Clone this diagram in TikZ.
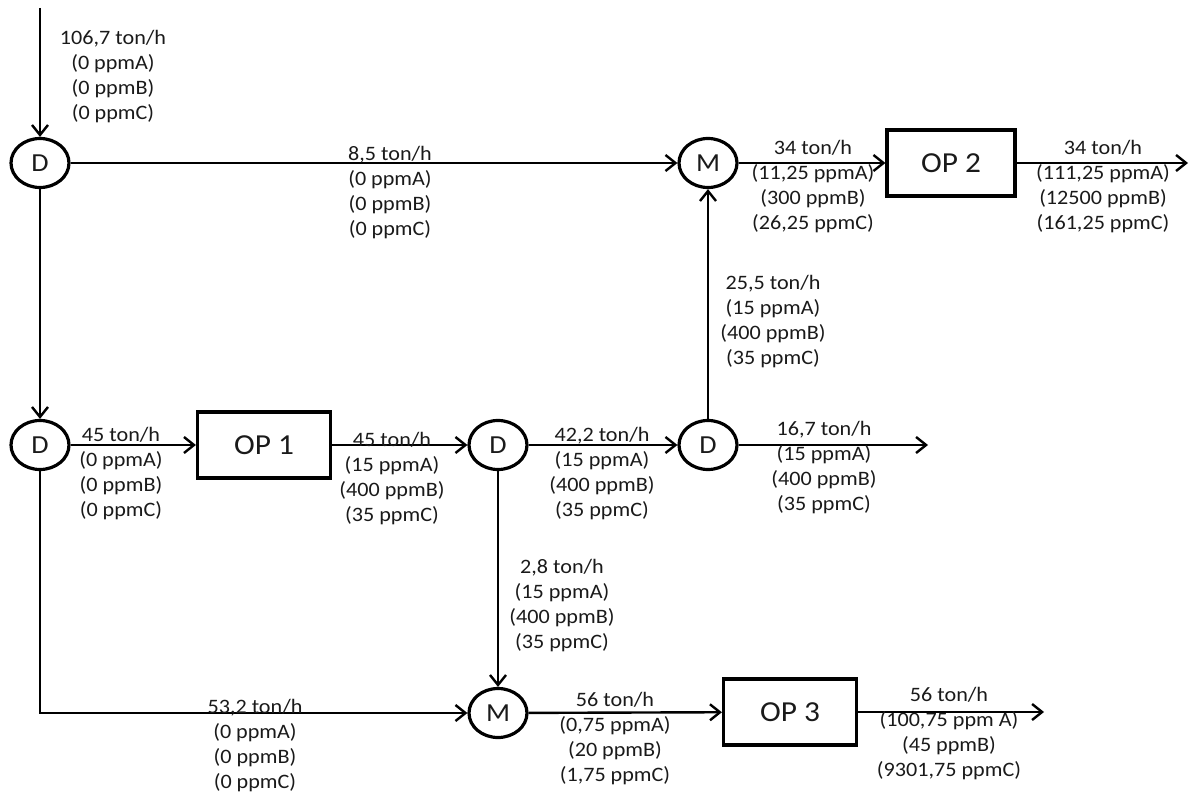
\documentclass[tikz,border=0pt]{standalone}
\usepackage{fontspec}
\setmainfont{Carlito}[FakeStretch=1.08]
\usetikzlibrary{shapes.geometric,arrows.meta}
\definecolor{txt}{HTML}{1A1A1A}
\begin{document}
\begin{tikzpicture}[x=1pt,y=-1pt,
  unit/.style={ellipse,draw,line width=3.2pt,minimum width=58pt,minimum height=49pt,inner sep=0pt,text=txt,font=\fontsize{26}{30}\selectfont},
  opbox/.style={rectangle,draw,line width=3.2pt,minimum width=133pt,minimum height=66pt,inner sep=0pt,text=txt,font=\fontsize{29}{34}\selectfont},
  flow/.style={line width=2.4pt,-{Straight Barb[length=10pt,width=16pt,line width=2.4pt]}},
  lbl/.style={anchor=north,inner sep=0pt,align=center,text=txt,font=\fontsize{20.5}{25}\selectfont}]
\useasboundingbox (0,0) rectangle (1193,794);
% units
\node[unit] (D1) at (40,163) {D};
\node[unit] (D2) at (40,445) {D};
\node[opbox] (OP1) at (264,445) {OP 1};
\node[unit] (D3) at (498,445) {D};
\node[unit] (D4) at (708,445) {D};
\node[unit] (Mt) at (708,163) {M};
\node[opbox,minimum width=128pt] (OP2) at (951,163) {OP 2};
\node[unit] (Mb) at (498,713) {M};
\node[opbox] (OP3) at (790,712) {OP 3};
% free ends
\coordinate (in) at (40,8);
\coordinate (out2) at (1188,163);
\coordinate (out4) at (928,445);
\coordinate (out3) at (1044,712);
\coordinate (corner) at (40,713);
% connectors
\draw[flow] (in) -- (D1);
\draw[flow] (D1) -- (D2);
\draw[flow] (D1) -- (Mt);
\draw[flow] (Mt) -- (OP2);
\draw[flow] (OP2) -- (out2);
\draw[flow] (D2) -- (OP1);
\draw[flow] (OP1) -- (D3);
\draw[flow] (D3) -- (D4);
\draw[flow] (D4) -- (out4);
\draw[flow] (D4) -- (Mt);
\draw[flow] (D3) -- (Mb);
\draw[flow] (D2) -- (corner) -- (Mb);
\draw[flow] (Mb) -- (OP3);
\draw[flow] (OP3) -- (out3);
% labels
\node[lbl] (L1) at (113,30) {106,7 ton/h\\(0 ppmA)\\(0 ppmB)\\(0 ppmC)};
\node[lbl] (L2) at (390,146) {8,5 ton/h\\(0 ppmA)\\(0 ppmB)\\(0 ppmC)};
\node[lbl] (L3) at (813,140) {34 ton/h\\(11,25 ppmA)\\(300 ppmB)\\(26,25 ppmC)};
\node[lbl] (L4) at (1103,140) {34 ton/h\\(111,25 ppmA)\\(12500 ppmB)\\(161,25 ppmC)};
\node[lbl] (L5) at (773,275) {25,5 ton/h\\(15 ppmA)\\(400 ppmB)\\(35 ppmC)};
\node[lbl] (L6) at (121,427) {45 ton/h\\(0 ppmA)\\(0 ppmB)\\(0 ppmC)};
\node[lbl] (L7) at (392,432) {45 ton/h\\(15 ppmA)\\(400 ppmB)\\(35 ppmC)};
\node[lbl] (L8) at (602,427) {42,2 ton/h\\(15 ppmA)\\(400 ppmB)\\(35 ppmC)};
\node[lbl] (L9) at (824,421) {16,7 ton/h\\(15 ppmA)\\(400 ppmB)\\(35 ppmC)};
\node[lbl] (L10) at (562,559) {2,8 ton/h\\(15 ppmA)\\(400 ppmB)\\(35 ppmC)};
\node[lbl] (L11) at (255,699) {53,2 ton/h\\(0 ppmA)\\(0 ppmB)\\(0 ppmC)};
\node[lbl] (L12) at (615,692) {56 ton/h\\(0,75 ppmA)\\(20 ppmB)\\(1,75 ppmC)};
\node[lbl] (L13) at (949,687) {56 ton/h\\(100,75 ppm A)\\(45 ppmB)\\(9301,75 ppmC)};
\end{tikzpicture}
\end{document}
